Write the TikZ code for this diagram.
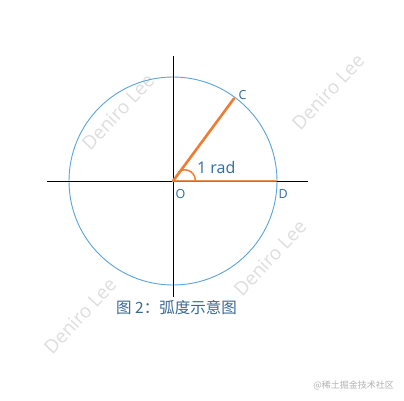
\documentclass[tikz,border=0pt]{standalone}
\usepackage{fontspec}
\setmainfont{Open Sans}
\newfontfamily\cjk{Noto Sans CJK SC}
\definecolor{circblue}{HTML}{5BA3DC}
\definecolor{orng}{HTML}{ED7D31}
\definecolor{lblblue}{HTML}{2D6BA3}
\definecolor{capblue}{HTML}{3A6894}
\definecolor{wmgray}{HTML}{DEDEDE}
\tikzset{
  axisline/.style={black, line width=0.9pt},
  radline/.style={orng, line width=2.6pt},
  ptlabel/.style={text=lblblue, font=\fontsize{12.5}{14}\selectfont, inner sep=0pt},
  watermark/.style={text=wmgray, font=\fontsize{19}{21}\selectfont, rotate=47, inner sep=0pt},
}
\begin{document}
\begin{tikzpicture}[x=1pt,y=-1pt]
\useasboundingbox (0,0) rectangle (404,401);
\fill[white] (0,0) rectangle (404,401);
% watermarks
\node[watermark] (w1) at (118,112) {Deniro Lee};
\node[watermark] (w2) at (328,92) {Deniro Lee};
\node[watermark] (w3) at (270,258) {Deniro Lee};
\node[watermark] (w4) at (80,316) {Deniro Lee};
% points
\coordinate (O) at (173,181);
\coordinate (D) at (276,181);
\coordinate (C) at (234,98.5);
\coordinate (axL) at (47,181);
\coordinate (axR) at (308,181);
\coordinate (axT) at (173,56);
\coordinate (axB) at (173,297);
% circle
\draw[circblue, line width=0.9pt] (O) circle[radius=104];
% axes
\draw[axisline] (axL) -- (axR);
\draw[axisline] (axT) -- (axB);
% radii
\draw[radline, opacity=0.85, line cap=round] (O) -- (D);
\draw[radline, line cap=round] (O) -- (C);
% angle arc
\coordinate (a1) at (178.5,172);
\coordinate (a2) at (195.5,181);
\draw[orng, line width=1.5pt] (a1) .. controls (184,167.5) and (195,170) .. (a2);
% labels
\node[ptlabel, anchor=west] (lC) at (238.5,95.5) {C};
\node[ptlabel, anchor=west] (lO) at (175.5,194) {O};
\node[ptlabel, anchor=west] (lD) at (278.5,194) {D};
\node[text=lblblue, font=\fontsize{16}{18}\selectfont, inner sep=0pt, anchor=base west] (rad) at (197,173.5) {1 rad};
% caption
\node[text=capblue, font=\cjk\fontsize{15.5}{17}\selectfont, inner sep=0pt] (cap) at (176.5,308) {图 2：弧度示意图};
% site mark
\node[text=black!30, font=\cjk\fontsize{9}{10}\selectfont, inner sep=0pt, anchor=east] (site) at (394,385) {@稀土掘金技术社区};
\end{tikzpicture}
\end{document}
